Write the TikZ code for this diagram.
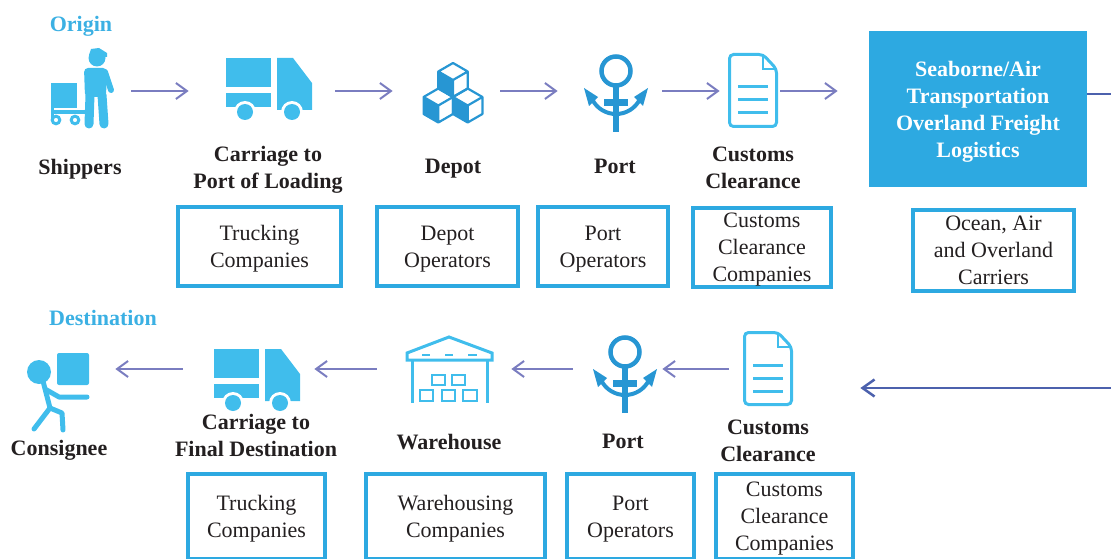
\documentclass[tikz,border=0pt]{standalone}
\usepackage{fontspec}
\setmainfont{Liberation Serif}
\usetikzlibrary{arrows.meta}

\definecolor{iconblue}{RGB}{64,189,236}
\definecolor{deepblue}{RGB}{39,150,211}
\definecolor{boxblue}{RGB}{45,169,225}
\definecolor{areablue}{RGB}{59,176,227}
\definecolor{flowpurple}{RGB}{122,125,192}
\definecolor{backblue}{RGB}{76,97,173}
\definecolor{ink}{RGB}{35,31,32}

\newcommand{\bodysize}{\fontsize{22}{27}\selectfont}

\tikzset{every picture/.style={line width=0.75pt}}
\tikzset{
  firm/.style={draw=boxblue, line width=4pt, align=center, inner sep=0pt, text depth=0pt, text=ink, font=\bodysize},
  hub/.style={fill=boxblue, align=center, inner sep=0pt, text depth=0pt, text=white, font=\bodysize\bfseries},
  stage/.style={align=center, inner sep=0pt, text depth=0pt, text=ink, font=\bodysize\bfseries},
  area/.style={inner sep=0pt, text depth=0pt, text=areablue, font=\bodysize\bfseries},
  slot/.style={inner sep=0pt, minimum height=2pt},
  flow/.style={draw=flowpurple, line width=2pt, -{Straight Barb[length=11pt,width=16pt]}},
  back/.style={draw=backblue, line width=2.5pt},
  gap/.style 2 args={shorten <=#1, shorten >=#2},
  % icons
  shipper/.pic={
    \fill[iconblue] (1,34) rectangle (27,59);
    \draw[iconblue, line width=3pt] (2,34) -- (2,70);
    \draw[iconblue, line width=3.5pt] (1,63) -- (38,63);
    \draw[iconblue, line width=3pt] (6,71) circle[radius=3.8pt] (25,71) circle[radius=3.8pt];
    \fill[iconblue] (47,9) circle[radius=8.5pt];
    \fill[iconblue] (39,6) -- (41,0) -- (49,-1) -- (57,4) -- (57,8) -- cycle;
    \fill[iconblue, rounded corners=4pt] (34,19) -- (57,19) -- (56,48) -- (35,48) -- cycle;
    \draw[iconblue, line width=6pt, line cap=round] (55,23) -- (61,41);
    \draw[iconblue, line width=9pt, line cap=round] (40,46) -- (39,75) (52,46) -- (54,75);
  },
  lorry/.pic={
    \fill[iconblue] (0,0) rectangle (45,29);
    \fill[iconblue] (0,35) rectangle (45,49);
    \fill[iconblue] (51,0) -- (67,0) -- (86,25) -- (86,52) -- (51,52) -- cycle;
    \fill[white] (19,54) circle[radius=11pt] (66,54) circle[radius=11pt];
    \fill[iconblue] (19,54) circle[radius=8pt] (66,54) circle[radius=8pt];
  },
  cubelet/.pic={
    \fill[deepblue] (-14.7,-8.5) -- (0,0) -- (0,17) -- (-14.7,8.5) -- cycle;
    \draw[deepblue, line width=2.2pt, line join=round] (0,-17) -- (14.7,-8.5) -- (14.7,8.5) -- (0,17) -- (-14.7,8.5) -- (-14.7,-8.5) -- cycle
      (0,0) -- (14.7,-8.5) (0,0) -- (-14.7,-8.5) (0,0) -- (0,17);
  },
  crate/.pic={
    \pic at (-14.7,25.5) {cubelet};
    \pic at (14.7,25.5) {cubelet};
    \pic at (0,0) {cubelet};
  },
  portanchor/.pic={
    \draw[deepblue, line width=4.5pt] (0,0) circle[radius=14.5pt];
    \fill[deepblue] (-3,16) rectangle (3,61);
    \fill[deepblue] (-12,28) rectangle (12,35);
    \draw[deepblue, line width=4pt] (-24,28) .. controls (-14,48) and (14,48) .. (24,28);
    \fill[deepblue] (-32,17) -- (-18,26) -- (-27,35) -- cycle;
    \fill[deepblue] (32,17) -- (18,26) -- (27,35) -- cycle;
  },
  docsheet/.pic={
    \draw[iconblue, line width=3pt, rounded corners=4pt] (1.5,1.5) -- (35,1.5) -- (48.5,16) -- (48.5,73.5) -- (1.5,73.5) -- cycle;
    \draw[iconblue, line width=2.5pt] (35,1.5) -- (35,16) -- (48.5,16);
    \draw[iconblue, line width=3pt] (10,34) -- (40,34) (10,47) -- (40,47) (10,60) -- (40,60);
  },
  barn/.pic={
    \draw[iconblue, line width=3pt] (2,16) -- (44,0) -- (87,16) -- (87,23) -- (2,23) -- cycle;
    \draw[iconblue, line width=3pt] (7,23) -- (7,66) (82,23) -- (82,66);
    \draw[iconblue, line width=2.5pt] (17,18) -- (25,18) (40,18) -- (48,18) (63,18) -- (72,18);
    \draw[iconblue, line width=2.5pt] (27,38) rectangle (40,48) (47,38) rectangle (60,48)
      (15,53) rectangle (28,64) (37,53) rectangle (50,64) (58,53) rectangle (72,64);
  },
  consignee/.pic={
    \fill[iconblue, rounded corners=2pt] (28,0) rectangle (60,32);
    \fill[iconblue] (10,19) circle[radius=12pt];
    \draw[iconblue, line width=5pt, line cap=round, line join=round] (14,28) -- (21,55) -- (5,76)
      (21,55) -- (33,60) -- (34,77) (16,36) -- (30,44) -- (58,44);
  }
}

\begin{document}
\begin{tikzpicture}[x=1pt,y=-1pt]
\useasboundingbox (0,0) rectangle (1111,559);

% origin row
\node[area] (origin) at (81,24) {Origin};
\pic at (50,49) {shipper};
\pic at (226,58) {lorry};
\pic at (453,80) {crate};
\pic at (616,71) {portanchor};
\pic at (728,53) {docsheet};
\node[slot, minimum width=61pt] (ship) at (80.5,91) {};
\node[slot, minimum width=85pt] (lorryA) at (268.5,91) {};
\node[slot, minimum width=58pt] (crate) at (453,91) {};
\node[slot, minimum width=62pt] (portA) at (615,91) {};
\node[slot, minimum width=50pt] (docA) at (753,91) {};
\node[hub, minimum width=218pt, minimum height=156pt] (sea) at (978,109) {Seaborne/Air\\Transportation\\Overland Freight\\Logistics};

\node[stage] (shipL) at (80,167) {Shippers};
\node[stage] (lorryAL) at (268,167.5) {Carriage to\\Port of Loading};
\node[stage] (crateL) at (453,166) {Depot};
\node[stage] (portAL) at (615,166) {Port};
\node[stage] (docAL) at (753,167.5) {Customs\\Clearance};

\node[firm, minimum width=163pt, minimum height=79pt] (truckers) at (259.5,246.5) {Trucking\\Companies};
\node[firm, minimum width=141pt, minimum height=79pt] (depots) at (447.5,246.5) {Depot\\Operators};
\node[firm, minimum width=130pt, minimum height=79pt] (portops) at (603,246.5) {Port\\Operators};
\node[firm, minimum width=138pt, minimum height=79pt] (brokers) at (762,247.5) {Customs\\Clearance\\Companies};
\node[firm, minimum width=161pt, minimum height=81pt] (carriers) at (993.5,250.5) {Ocean, Air\\and Overland\\Carriers};

\draw[flow, gap={20pt}{37pt}] (ship.east) -- (lorryA.west);
\draw[flow, gap={24pt}{31pt}] (lorryA.east) -- (crate.west);
\draw[flow, gap={18pt}{26pt}] (crate.east) -- (portA.west);
\draw[flow, gap={16pt}{8pt}] (portA.east) -- (docA.west);
\draw[flow, gap={2pt}{31pt}] (docA.east) -- (docA.east -| sea.west);

% destination row
\node[area] (dest) at (103,318) {Destination};
\pic at (29,353) {consignee};
\pic at (214,349) {lorry};
\pic at (405,337) {barn};
\pic at (625,352) {portanchor};
\pic at (743,331) {docsheet};
\node[slot, minimum width=60pt] (cons) at (59,369) {};
\node[slot, minimum width=86pt] (lorryB) at (257,369) {};
\node[slot, minimum width=88pt] (barn) at (449,369) {};
\node[slot, minimum width=63pt] (portB) at (625.5,369) {};
\node[slot, minimum width=49pt] (docB) at (767.5,369) {};

\node[stage] (consL) at (59,448) {Consignee};
\node[stage] (lorryBL) at (256,435.5) {Carriage to\\Final Destination};
\node[stage] (barnL) at (449,442) {Warehouse};
\node[stage] (portBL) at (623,441) {Port};
\node[stage] (docBL) at (768,440.5) {Customs\\Clearance};

\node[firm, minimum width=137pt, minimum height=85pt] (truckersB) at (256.5,516.5) {Trucking\\Companies};
\node[firm, minimum width=179pt, minimum height=85pt] (storers) at (455.5,516.5) {Warehousing\\Companies};
\node[firm, minimum width=127pt, minimum height=85pt] (portopsB) at (630.5,516.5) {Port\\Operators};
\node[firm, minimum width=137pt, minimum height=85pt] (brokersB) at (784.5,516.5) {Customs\\Clearance\\Companies};

\draw[flow, gap={31pt}{26pt}] (lorryB.west) -- (cons.east);
\draw[flow, gap={28pt}{14pt}] (barn.west) -- (lorryB.east);
\draw[flow, gap={21pt}{18pt}] (portB.west) -- (barn.east);
\draw[flow, gap={14pt}{5pt}] (docB.west) -- (portB.east);

% loop back along the right edge
\coordinate (seaout) at (1111,94);
\coordinate (retin) at (1111,388);
\draw[back] (seaout -| sea.east) -- (seaout);
\draw[back, -{Straight Barb[length=12pt,width=17pt]}, shorten >=68pt] (retin) -- (retin -| docB.east);

\end{tikzpicture}
\end{document}
